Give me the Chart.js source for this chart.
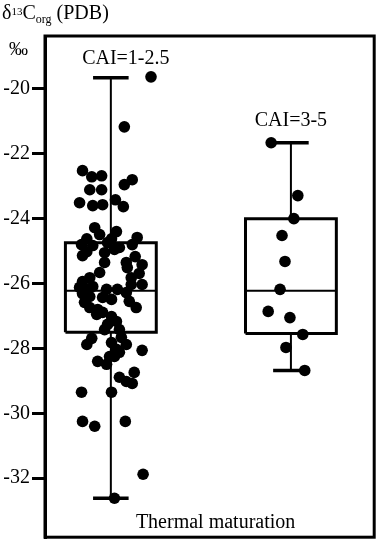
<!DOCTYPE html>
<html>
<head>
<meta charset="utf-8">
<script src="https://cdn.jsdelivr.net/npm/chart.js@4.4.1/dist/chart.umd.min.js"></script>
<style>
  html, body { margin: 0; padding: 0; background: #fff; }
  #wrap { position: relative; width: 380px; height: 543px; }
  #chart { position: absolute; left: 0; top: 0; }
  .ytitle { position: absolute; left: 2px; top: 1px; font: 20px 'Liberation Serif', serif; line-height: 22px; white-space: nowrap; color: #000; }
  .ytitle sup { font-size: 11px; position: relative; top: -1px; vertical-align: top; }
  .ytitle sub { font-size: 12px; position: relative; top: 7px; vertical-align: bottom; }
  .unit { position: absolute; left: 9px; top: 38px; font: 19px 'Liberation Serif', serif; color: #000; }
</style>
</head>
<body>
<div id="wrap">
  <canvas id="chart" width="380" height="543"></canvas>
  <div class="ytitle">δ<sup>13</sup>C<sub>org</sub> (PDB)</div>
  <div class="unit">‰</div>
</div>
<script>
// groups
const groupNames = ['CAI=1-2.5', 'CAI=3-5'];
const groupX = [2.0, 7.47];

// box statistics (per group)
const whiskerHigh = [-19.66, -21.66];
const boxQ3 = [-24.74, -24.0];
const boxMedian = [-26.22, -26.22];
const boxQ1 = [-27.5, -27.54];
const whiskerLow = [-32.62, -28.68];

// individual samples, group 1 (jittered x, value)
const cai1X = [3.22, 2.41, 1.14, 1.42, 1.72, 2.65, 2.41, 1.36, 1.72, 1.05,
    1.45, 1.75, 2.14, 2.38, 1.51, 1.66, 2.17, 1.27, 2.02, 2.80,
    1.11, 1.27, 1.45, 1.90, 2.26, 2.65, 1.14, 1.81, 2.11, 1.81,
    2.47, 2.74, 2.95, 1.66, 2.50, 2.86, 2.62, 2.62, 2.95, 1.14,
    1.36, 1.05, 1.45, 1.27, 1.87, 2.20, 2.47, 1.14, 1.36, 1.75,
    2.02, 2.56, 1.20, 1.36, 1.60, 2.77, 1.75, 1.57, 2.02, 2.17,
    1.90, 1.81, 2.26, 1.42, 1.27, 2.02, 2.32, 2.47, 2.95, 2.17,
    2.26, 1.96, 1.60, 1.87, 2.11, 2.71, 2.26, 2.47, 2.65, 1.11,
    2.02, 1.14, 1.51, 2.44, 2.98, 2.11];
const cai1Y = [-19.63, -21.17, -22.52, -22.71, -22.68, -22.80, -22.95, -23.11, -23.11, -23.51,
    -23.60, -23.57, -23.42, -23.63, -24.28, -24.49, -24.40, -24.62, -24.62, -24.58,
    -24.80, -25.02, -24.83, -24.74, -24.89, -24.80, -25.14, -25.05, -24.95, -25.35,
    -25.35, -25.17, -25.42, -25.66, -25.51, -25.69, -25.82, -26.03, -26.03, -25.94,
    -25.82, -26.12, -26.09, -26.18, -26.18, -26.18, -26.28, -26.31, -26.40, -26.43,
    -26.49, -26.55, -26.58, -26.74, -26.80, -26.74, -26.89, -26.95, -27.02, -27.17,
    -27.26, -27.42, -27.42, -27.69, -27.88, -27.82, -27.66, -27.88, -28.06, -28.03,
    -28.12, -28.25, -28.40, -28.49, -28.25, -28.74, -28.89, -29.02, -29.08, -29.35,
    -29.35, -30.25, -30.40, -30.25, -31.88, -32.62];

// individual samples, group 2
const cai2X = [6.87, 7.68, 7.56, 7.20, 7.29, 7.14, 6.78, 7.44, 7.83, 7.32, 7.89];
const cai2Y = [-21.66, -23.29, -24.00, -24.52, -25.32, -26.18, -26.86, -27.05, -27.57, -27.97, -28.68];

const yTicks = [-32, -30, -28, -26, -24, -22, -20];
const xTitle = 'Thermal maturation';

// drawing constants
const BOX_HALF = 1.38;
const CAP_HALF = 0.54;
const FONT = '"Liberation Serif", "Times New Roman", serif';

function gap(x) { return { x: x, y: null }; }

const boxPts = [], medPts = [], whiskPts = [], capPts = [];
groupX.forEach((c, i) => {
    boxPts.push({ x: c - BOX_HALF, y: boxQ1[i] }, { x: c + BOX_HALF, y: boxQ1[i] },
        { x: c + BOX_HALF, y: boxQ3[i] }, { x: c - BOX_HALF, y: boxQ3[i] },
        { x: c - BOX_HALF, y: boxQ1[i] }, gap(c));
    medPts.push({ x: c - BOX_HALF, y: boxMedian[i] }, { x: c + BOX_HALF, y: boxMedian[i] }, gap(c));
    whiskPts.push({ x: c, y: boxQ3[i] }, { x: c, y: whiskerHigh[i] }, gap(c),
        { x: c, y: boxQ1[i] }, { x: c, y: whiskerLow[i] }, gap(c));
    capPts.push({ x: c - CAP_HALF, y: whiskerHigh[i] }, { x: c + CAP_HALF, y: whiskerHigh[i] }, gap(c),
        { x: c - CAP_HALF, y: whiskerLow[i] }, { x: c + CAP_HALF, y: whiskerLow[i] }, gap(c));
});

const samples = cai1X.map((x, i) => ({ x: x, y: cai1Y[i] }))
    .concat(cai2X.map((x, i) => ({ x: x, y: cai2Y[i] })));

function segs(data, width) {
    return {
        type: 'line',
        data: data,
        showLine: true,
        spanGaps: false,
        borderColor: '#000',
        borderWidth: width,
        borderJoinStyle: 'miter',
        borderCapStyle: 'butt',
        pointRadius: 0,
        fill: false
    };
}

const framePlugin = {
    id: 'frameAndLabels',
    afterDatasetsDraw(chart) {
        const { ctx, chartArea, scales } = chart;
        const x = scales.x, y = scales.y;
        ctx.save();
        ctx.strokeStyle = '#000';
        ctx.lineWidth = 3;
        ctx.strokeRect(chartArea.left, chartArea.top, chartArea.right - chartArea.left, chartArea.bottom - chartArea.top);
        ctx.fillStyle = '#000';
        ctx.font = '20px ' + FONT;
        ctx.textAlign = 'center';
        ctx.textBaseline = 'middle';
        const shift = [[15, -19], [0, -22]];
        groupNames.forEach((name, i) => {
            ctx.fillText(name, x.getPixelForValue(groupX[i]) + shift[i][0], y.getPixelForValue(whiskerHigh[i]) + shift[i][1]);
        });
        ctx.fillText(xTitle, (chartArea.left + chartArea.right) / 2 + 6, chartArea.bottom - 14);
        ctx.restore();
    }
};

new Chart(document.getElementById('chart').getContext('2d'), {
    type: 'scatter',
    data: {
        datasets: [
            segs(boxPts, 3),
            segs(medPts, 2),
            segs(whiskPts, 2),
            segs(capPts, 3.5),
            {
                type: 'scatter',
                data: samples,
                pointRadius: 5.8,
                pointBorderWidth: 0,
                pointBackgroundColor: '#000',
                borderColor: '#000'
            }
        ]
    },
    options: {
        responsive: false,
        animation: false,
        layout: { padding: { left: 0, top: 36, right: 3, bottom: 5 } },
        plugins: { legend: { display: false }, tooltip: { enabled: false } },
        scales: {
            x: { type: 'linear', display: false, min: 0, max: 10 },
            y: {
                min: -33.82,
                max: -18.37,
                afterBuildTicks: scale => { scale.ticks = yTicks.map(v => ({ value: v })); },
                afterFit: scale => {
                    scale.width = 45;
                    scale.paddingTop = 0;
                    scale.paddingBottom = 0;
                },
                grid: { drawOnChartArea: false, drawTicks: true, tickLength: 13, lineWidth: 3, color: '#000' },
                border: { display: true, width: 3, color: '#000' },
                ticks: {
                    padding: 2,
                    color: '#000',
                    font: { family: FONT, size: 20 }
                }
            }
        }
    },
    plugins: [framePlugin]
});
</script>
</body>
</html>
